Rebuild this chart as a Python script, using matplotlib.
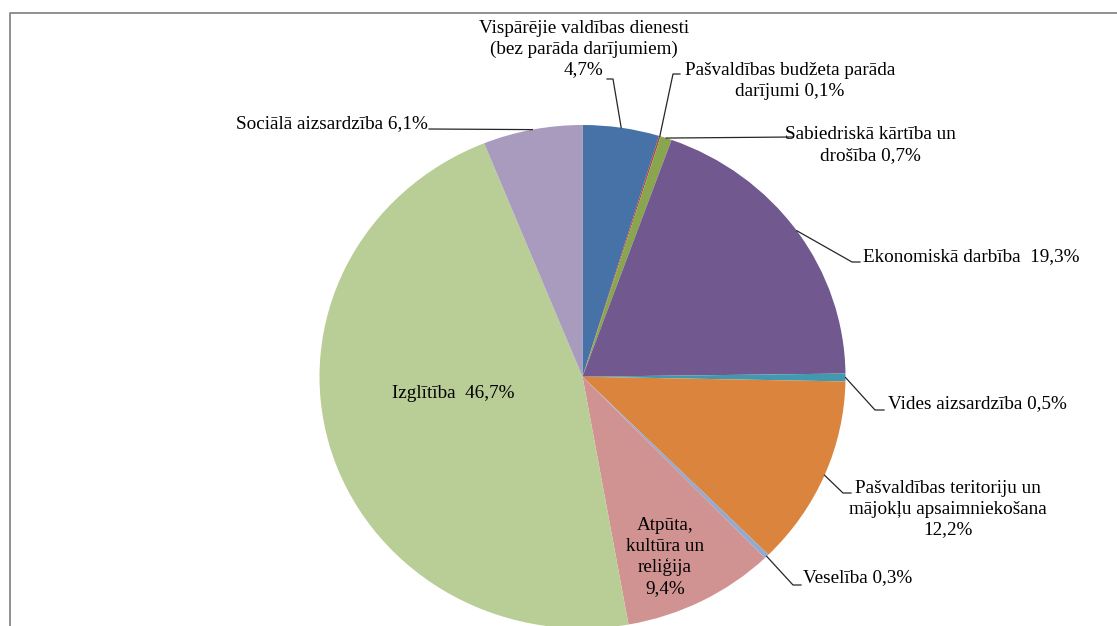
#!/usr/bin/env python3
import numpy as np
import matplotlib
matplotlib.use('Agg')
import matplotlib.pyplot as plt

plt.rcParams['font.family'] = ['Liberation Serif', 'DejaVu Serif']

# data, clockwise from 12 o'clock
labels = ['Vispārējie valdības dienesti\n(bez parāda darījumiem)\n4,7%',
          'Pašvaldības budžeta parāda\ndarījumi 0,1%',
          'Sabiedriskā kārtība un\ndrošība 0,7%',
          'Ekonomiskā darbība  19,3%',
          'Vides aizsardzība 0,5%',
          'Pašvaldības teritoriju un\nmājokļu apsaimniekošana\n12,2%',
          'Veselība 0,3%',
          'Atpūta,\nkultūra un\nreliģija\n9,4%',
          'Izglītība  46,7%',
          'Sociālā aizsardzība 6,1%']
shares = [4.7, 0.1, 0.7, 19.3, 0.5, 12.2, 0.3, 9.4, 46.7, 6.1]
colors = ['#4672A8', '#AA4643', '#89A54E', '#71588F', '#4198AF',
          '#DB843D', '#93A9CF', '#D19392', '#B9CD96', '#A99BBD']

# label layout in pixels: (x, y, ha), leader points (elbow, stub end) or None
label_pos = [(584, 49, 'center'), (790, 81, 'center'), (870, 145, 'center'),
             (863, 257, 'left'), (888, 404, 'left'), (948, 509, 'center'),
             (803, 578, 'left'), (665, 557, 'center'), (453, 393, 'center'),
             (428, 124, 'right')]
leaders = [[(613, 79), (607, 79)], [(673, 74), (680, 74)], [(793, 137)],
           [(852, 262), (860, 262)], [(875, 410), (884, 410)],
           [(843, 493), (851, 493)], [(793, 585), (801, 585)], None, None,
           [(429, 129)]]

W, H = 1117, 626
fig = plt.figure(figsize=(W / 100, H / 100), dpi=100)

# pie axes (slightly elliptical like the original)
cx, cy, rx, ry = 582.5, 376.7, 263, 251.7
ax = fig.add_axes([(cx - rx) / W, (H - cy - ry) / H, 2 * rx / W, 2 * ry / H])
wedges, _ = ax.pie(shares, colors=colors, startangle=90, counterclock=False,
                   wedgeprops=dict(linewidth=0))
ax.set_aspect('auto')
ax.set_xlim(-1, 1)
ax.set_ylim(-1, 1)
ax.axis('off')

# overlay in pixel coordinates for labels, leaders and frame
ov = fig.add_axes([0, 0, 1, 1], facecolor='none')
ov.set_xlim(0, W)
ov.set_ylim(H, 0)
ov.axis('off')

for w, lab, pos, ld in zip(wedges, labels, label_pos, leaders):
    x, y, ha = pos
    ov.text(x, y, lab, ha=ha, va='center', multialignment='center',
            fontsize=13.8, color='black', linespacing=1.27)
    if ld is None:
        continue
    mid = np.deg2rad((w.theta1 + w.theta2) / 2)
    p = ax.transData.transform((np.cos(mid), np.sin(mid)))
    ax_pt = ov.transData.inverted().transform(p)
    pts = [tuple(ax_pt)] + ld
    xs, ys = zip(*pts)
    ov.plot(xs, ys, color='#262626', lw=0.9)

# chart frame
ov.plot([10, 10, W], [H, 13, 13], color='#888888', lw=1.3)

fig.savefig('out.png', dpi=100)
